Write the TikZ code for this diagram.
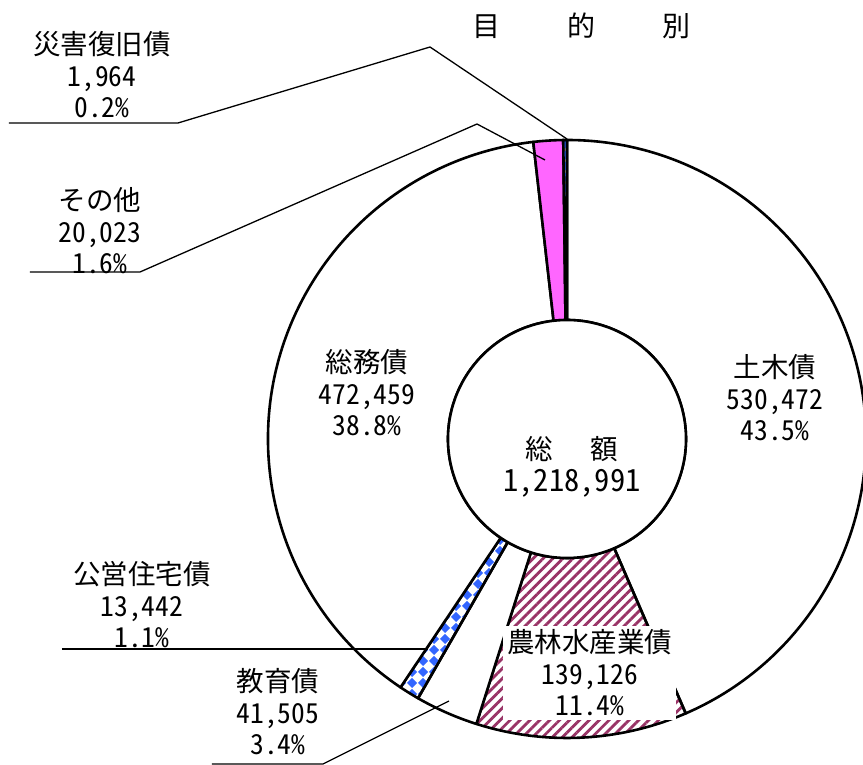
\documentclass[tikz,border=0pt]{standalone}
\usepackage{fontspec}
\setmainfont{Noto Sans CJK JP}[CharacterWidth=Half]
\usetikzlibrary{patterns.meta}

\definecolor{stripeplum}{RGB}{153,51,102}
\definecolor{checkblue}{RGB}{51,102,255}
\definecolor{otherpink}{RGB}{255,102,255}

\newcommand\lblfont{\fontsize{27.5}{31.5}\selectfont}

\tikzdeclarepattern{
  name=diamondcheck,
  type=uncolored,
  bounding box={(0pt,0pt) and (11pt,11pt)},
  tile size={(11pt,11pt)},
  code={\fill (5.5pt,0pt) -- (11pt,5.5pt) -- (5.5pt,11pt) -- (0pt,5.5pt) -- cycle;}
}

\begin{document}
\begin{tikzpicture}[
    x=1pt, y=1pt,
    slice/.style={draw, line width=2.6pt, line join=round},
    plainfill/.style={fill=white},
    stripefill/.style={pattern={Lines[angle=45,distance=7pt,line width=2.8pt]}, pattern color=stripeplum},
    checkfill/.style={pattern=diamondcheck, pattern color=checkblue},
    pinkfill/.style={fill=otherpink},
    leader/.style={line width=1.3pt},
    lbl/.style={align=center, font=\lblfont, inner sep=3pt}
]

\fill[white] (-567,-326) rectangle (296,439);
\useasboundingbox (-567,-326) rectangle (296,439);

% Slices, clockwise from the top
\foreach \a/\b/\s in {90/-66.6/plainfill, -66.6/-107.64/stripefill, -107.64/-119.88/plainfill,
                      -119.88/-123.84/checkfill, -123.84/-263.52/plainfill,
                      -263.52/-269.28/pinkfill, -269.28/-270/checkfill} {
    \draw[slice, \s] (\a:299) arc[start angle=\a, end angle=\b, radius=299]
        -- (\b:119) arc[start angle=\b, end angle=\a, radius=119] -- cycle;
}

% Hole
\node[circle, draw, line width=2.6pt, fill=white, minimum size=238pt, inner sep=0pt] (hole) at (0,0) {};

% Title and total
\node[lbl, font=\fontsize{28}{32}\selectfont] (title) at (15,413) {目\hspace{67pt}的\hspace{67pt}別};
\node[lbl] (total) at (5,-28) {総\hspace{37pt}額\\{\fontsize{30.5}{33}\selectfont 1,218,991}};

% Labels
\node[lbl] (doboku) at (208,41) {土木債\\530,472\\43.5\%};
\node[lbl, fill=white, inner sep=4pt] (norin) at (23,-234) {農林水産業債\\139,126\\11.4\%};
\node[lbl] (kyoiku) at (-289,-273) {教育債\\41,505\\3.4\%};
\node[lbl] (koei) at (-425,-166) {公営住宅債\\13,442\\1.1\%};
\node[lbl] (somu) at (-200,46) {総務債\\472,459\\38.8\%};
\node[lbl] (sonota) at (-467,208) {その他\\20,023\\1.6\%};
\node[lbl] (saigai) at (-465,364) {災害復旧債\\1,964\\0.2\%};

% Leaders
\coordinate (saigai_l) at (-558,316);
\coordinate (saigai_k) at (-389,316);
\coordinate (saigai_t) at (-137,392);
\coordinate (saigai_p) at (0,300);
\coordinate (sonota_l) at (-537,167);
\coordinate (sonota_k) at (-427,167);
\coordinate (sonota_t) at (-90,315);
\coordinate (sonota_p) at (-22,279);
\coordinate (koei_l) at (-505,-210);
\coordinate (koei_p) at (-139,-210);
\coordinate (kyoiku_l) at (-355,-325);
\coordinate (kyoiku_k) at (-244,-325);
\coordinate (kyoiku_p) at (-118,-262);

\draw[leader] (saigai_l) -- (saigai_k) -- (saigai_t) -- (saigai_p);
\draw[leader] (sonota_l) -- (sonota_k) -- (sonota_t) -- (sonota_p);
\draw[leader] (koei_l) -- (koei_p);
\draw[leader] (kyoiku_l) -- (kyoiku_k) -- (kyoiku_p);

\end{tikzpicture}
\end{document}
